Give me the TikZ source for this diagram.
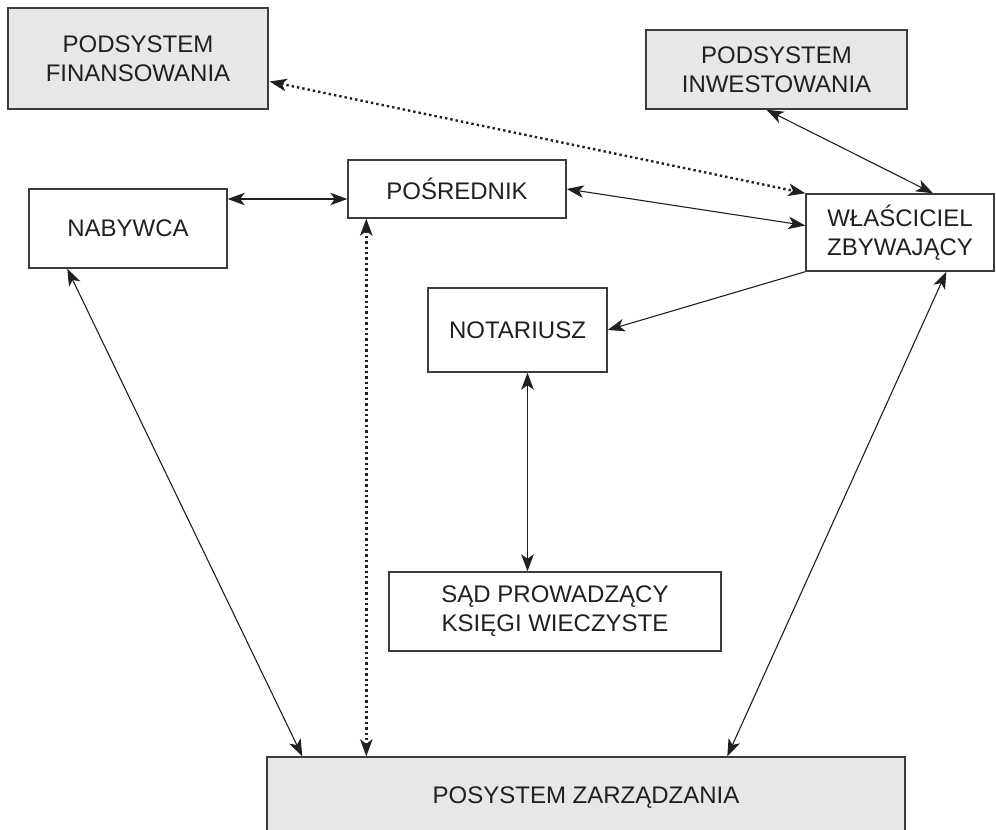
\documentclass[tikz,border=0pt]{standalone}
\usepackage{fontspec}
\setmainfont{Liberation Sans}
\usetikzlibrary{arrows.meta,calc}
\definecolor{boxgray}{HTML}{E6E7E8}
\definecolor{edge}{HTML}{3C3C3C}
\definecolor{ink}{HTML}{231F20}
\begin{document}
\begin{tikzpicture}[x=1pt,y=-1pt,
  box/.style={draw=edge,line width=1.4pt,rectangle,inner sep=0pt,align=center,
    text=ink,font=\fontsize{24}{29}\selectfont},
  graybox/.style={box,fill=boxgray},
  tip/.tip={Stealth[length=17pt,width=12.5pt,inset=4.5pt]},
  arr/.style={draw=ink,line width=1.1pt,tip-tip},
  arrone/.style={draw=ink,line width=1.1pt,-tip},
  dots/.style={line width=2.4pt,dash pattern=on 2.4pt off 3pt}]
\useasboundingbox (0,0) rectangle (996,830);
\clip (0,0) rectangle (996,830);

% boxes
\node[graybox,minimum width=260pt,minimum height=101pt] (fin) at (138,58.5) {PODSYSTEM\\FINANSOWANIA};
\node[graybox,minimum width=261pt,minimum height=79pt] (inw) at (776.5,69.5) {PODSYSTEM\\INWESTOWANIA};
\node[box,minimum width=198pt,minimum height=79pt] (nab) at (128,228.5) {NABYWCA};
\node[box,minimum width=218pt,minimum height=58pt] (pos) at (457,189) {POŚREDNIK};
\node[box,minimum width=188pt,minimum height=77pt] (wla) at (900,232.5) {WŁAŚCICIEL\\ZBYWAJĄCY};
\node[box,minimum width=179pt,minimum height=84pt] (not) at (517.5,330) {NOTARIUSZ};
\node[box,minimum width=332pt,minimum height=79pt] (sad) at (555,611.5) {SĄD PROWADZĄCY\\KSIĘGI WIECZYSTE};
\node[graybox,minimum width=638pt,minimum height=82pt] (zar) at (586,798) {POSYSTEM ZARZĄDZANIA};

% connector ends
\coordinate (p1) at ($(pos.west)+(0,10)$);
\coordinate (w1) at ($(wla.west)+(0,-7)$);
\coordinate (f1) at ($(fin.east)+(1,23)$);
\coordinate (i1) at ($(inw.south)+(-10,0)$);
\coordinate (w2) at ($(wla.north)+(33,0)$);
\coordinate (n1) at ($(not.south)+(10,0)$);
\coordinate (b1) at ($(nab.south west)+(39,0)$);
\coordinate (z1) at ($(zar.north west)+(36,0)$);
\coordinate (p2) at ($(pos.south west)+(19,0)$);
\coordinate (w3) at ($(wla.south west)+(141,0)$);
\coordinate (z3) at ($(zar.north west)+(461,0)$);

% connectors
\draw[arr] (nab.east |- p1) -- (p1);
\draw[arr] (pos.east) -- (w1);
\draw[arr,dots] (f1) -- (wla.north west);
\draw[arr] (i1) -- (w2);
\draw[arrone] (wla.south west) -- (not.east);
\draw[arr] (n1) -- (n1 |- sad.north);
\draw[arr] (b1) -- (z1);
\draw[arr,dots] (p2) -- (p2 |- zar.north);
\draw[arr] (w3) -- (z3);
\end{tikzpicture}
\end{document}
